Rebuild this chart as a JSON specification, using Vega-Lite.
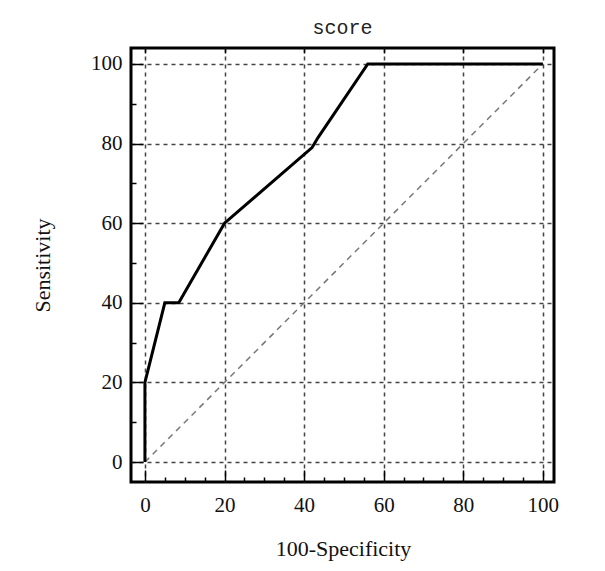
{
  "$schema": "https://vega.github.io/schema/vega-lite/v6.json",
  "width": 423,
  "height": 434,
  "autosize": "none",
  "padding": {"left": 131, "top": 48, "right": 51, "bottom": 89},
  "background": "white",
  "title": {"text": "score", "font": "Liberation Mono", "fontSize": 20, "fontWeight": "normal", "color": "#222", "offset": 9},
  "config": {
    "view": {"stroke": "black", "strokeWidth": 3},
    "axis": {"labelFont": "Liberation Serif", "titleFont": "Liberation Serif", "labelColor": "#111", "titleColor": "#111", "titleFontWeight": "normal"}
  },
  "resolve": {"axis": {"x": "independent"}},
  "layer": [
    {
      "data": {"values": [{"fpr": 0, "tpr": 0}, {"fpr": 100, "tpr": 100}]},
      "mark": {"type": "line", "color": "#777", "strokeWidth": 1.5, "strokeDash": [6, 5]},
      "encoding": {
        "x": {"field": "fpr", "type": "quantitative", "scale": {"domain": [-3.5, 102.8], "nice": false, "zero": false},
          "axis": {"orient": "top", "values": [0, 20, 40, 60, 80, 100], "labels": false, "grid": false, "domain": false, "tickSize": -5, "tickColor": "black", "tickWidth": 1.5, "title": null}},
        "y": {"field": "tpr", "type": "quantitative", "scale": {"domain": [-5, 104], "nice": false, "zero": false}}
      }
    },
    {
      "data": {"values": [
        {"fpr": 0, "tpr": 0},
        {"fpr": 0, "tpr": 20},
        {"fpr": 5, "tpr": 40},
        {"fpr": 8.5, "tpr": 40},
        {"fpr": 20, "tpr": 60},
        {"fpr": 42, "tpr": 79},
        {"fpr": 43.5, "tpr": 81.5},
        {"fpr": 56, "tpr": 100},
        {"fpr": 100, "tpr": 100}
      ]},
      "mark": {"type": "line", "color": "black", "strokeWidth": 3},
      "encoding": {
        "x": {"field": "fpr", "type": "quantitative", "scale": {"domain": [-3.5, 102.8], "nice": false, "zero": false},
          "axis": {"orient": "bottom", "title": "100-Specificity", "titleFontSize": 22, "titleX": 212, "titleY": 66, "titleBaseline": "middle",
            "values": [0, 5, 10, 15, 20, 25, 30, 35, 40, 45, 50, 55, 60, 65, 70, 75, 80, 85, 90, 95, 100],
            "labelExpr": "datum.value % 20 === 0 ? datum.label : ''",
            "labelFontSize": 21, "labelPadding": 24, "labelFlush": false,
            "tickSize": {"condition": {"test": "datum.value % 20 === 0", "value": -12}, "value": -5},
            "tickColor": "black", "tickWidth": 1.5, "domain": false,
            "grid": true, "gridColor": "#444", "gridDash": [4, 4], "gridWidth": 1.5,
            "gridOpacity": {"condition": {"test": "datum.value % 20 === 0", "value": 1}, "value": 0}}},
        "y": {"field": "tpr", "type": "quantitative", "scale": {"domain": [-5, 104], "nice": false, "zero": false},
          "axis": {"orient": "left", "title": "Sensitivity", "titleFontSize": 22, "titleX": -89, "titleY": 217, "titleBaseline": "middle", "titleAngle": -90,
            "values": [0, 5, 10, 15, 20, 25, 30, 35, 40, 45, 50, 55, 60, 65, 70, 75, 80, 85, 90, 95, 100],
            "labelExpr": "datum.value % 20 === 0 ? datum.label : ''",
            "labelFontSize": 21, "labelPadding": 21, "labelFlush": false,
            "tickSize": {"condition": {"test": "datum.value % 20 === 0", "value": -12}, "value": -5},
            "tickColor": "black", "tickWidth": 1.5, "domain": false,
            "grid": true, "gridColor": "#444", "gridDash": [4, 4], "gridWidth": 1.5,
            "gridOpacity": {"condition": {"test": "datum.value % 20 === 0", "value": 1}, "value": 0}}}
      }
    }
  ]
}
